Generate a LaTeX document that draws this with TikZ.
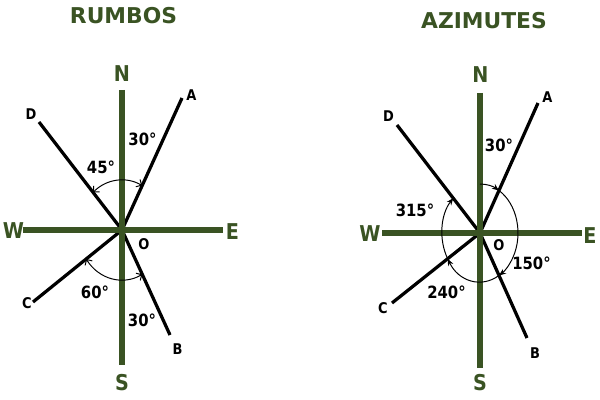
\documentclass[tikz,border=0pt]{standalone}
\usepackage{fontspec}
\setmainfont{DejaVu Sans}
\newfontfamily\narrowfont[FakeStretch=0.88]{DejaVu Sans}
\usetikzlibrary{arrows.meta}
\definecolor{compassgreen}{RGB}{58,83,35}

\begin{document}
\begin{tikzpicture}[x=0.025cm,y=0.025cm,
    axis/.style={line width=4.5pt,compassgreen},
    ray/.style={line width=2.3pt,black},
    cardinal/.style={inner sep=0pt,text=compassgreen,font=\narrowfont\bfseries\fontsize{15.5}{15.5}\selectfont},
    point/.style={inner sep=0pt,font=\narrowfont\bfseries\fontsize{10.5}{10.5}\selectfont},
    angletext/.style={inner sep=0pt,font=\narrowfont\bfseries\fontsize{12}{12}\selectfont},
    heading/.style={inner sep=0pt,text=compassgreen,font=\bfseries\fontsize{15.5}{15.5}\selectfont},
    rumboarc/.style={line width=0.7pt,{Straight Barb[length=3pt,width=6pt]}-{Straight Barb[length=3pt,width=6pt]}},
    azarc/.style={line width=0.7pt,-{Stealth[length=5pt,width=4pt]}}]
\useasboundingbox (0,0) rectangle (600,400);

\node[heading] (rumbos) at (123.5,384) {RUMBOS};
\node[heading] (azimutes) at (484,379) {AZIMUTES};

% rumbos
\begin{scope}[shift={(122,170)}]
    \coordinate (O1) at (0,0);
    \coordinate (N1) at (0,140);
    \coordinate (S1) at (0,-135);
    \coordinate (W1) at (-99,0);
    \coordinate (E1) at (101,0);
    \coordinate (A1) at (60,132);
    \coordinate (B1) at (48,-105);
    \coordinate (C1) at (-89,-72);
    \coordinate (D1) at (-83,108);
    \draw[ray] (O1) -- (A1);
    \draw[ray] (O1) -- (B1);
    \draw[ray] (O1) -- (C1);
    \draw[ray] (O1) -- (D1);
    \draw[axis] (N1) -- (S1);
    \draw[axis] (W1) -- (E1);
    \draw[rumboarc] (62.7:44 and 50) arc[start angle=62.7,end angle=131.1,x radius=44,y radius=50];
    \draw[rumboarc] (-144.6:44 and 50) arc[start angle=-144.6,end angle=-62.5,x radius=44,y radius=50];
    \node[cardinal] (labN1) at (0,156) {N};
    \node[cardinal] (labS1) at (0,-153) {S};
    \node[cardinal] (labW1) at (-108.5,-0.5) {W};
    \node[cardinal] (labE1) at (110.5,-1.5) {E};
    \node[point] (labA1) at (69.5,135) {A};
    \node[point] (labB1) at (55.5,-119.5) {B};
    \node[point] (labC1) at (-95,-73.5) {C};
    \node[point] (labD1) at (-91,116) {D};
    \node[point] (labO1) at (22,-14.5) {O};
    \node[angletext] (ang30a) at (20.5,90.5) {30°};
    \node[angletext] (ang45) at (-21,62.5) {45°};
    \node[angletext] (ang60) at (-27,-62.5) {60°};
    \node[angletext] (ang30b) at (20,-90.5) {30°};
\end{scope}

% azimutes
\begin{scope}[shift={(480,167)}]
    \coordinate (O2) at (0,0);
    \coordinate (N2) at (0,140);
    \coordinate (S2) at (0,-135);
    \coordinate (W2) at (-98,0);
    \coordinate (E2) at (102,0);
    \coordinate (A2) at (58,130);
    \coordinate (B2) at (47,-105);
    \coordinate (C2) at (-88,-70);
    \coordinate (D2) at (-83,108);
    \draw[ray] (O2) -- (A2);
    \draw[ray] (O2) -- (B2);
    \draw[ray] (O2) -- (C2);
    \draw[ray] (O2) -- (D2);
    \draw[axis] (N2) -- (S2);
    \draw[axis] (W2) -- (E2);
    \foreach \a/\b in {90/60.1,60.1/-60,-60/-148.3,-148.3/-225.3}
        \draw[azarc] (\a:38 and 49) arc[start angle=\a,end angle=\b,x radius=38,y radius=49];
    \node[cardinal] (labN2) at (0.5,158) {N};
    \node[cardinal] (labS2) at (0,-150) {S};
    \node[cardinal] (labW2) at (-110,-0.5) {W};
    \node[cardinal] (labE2) at (110,-3) {E};
    \node[point] (labA2) at (67.5,135.5) {A};
    \node[point] (labB2) at (55,-120.5) {B};
    \node[point] (labC2) at (-97,-75.5) {C};
    \node[point] (labD2) at (-91.5,116.5) {D};
    \node[point] (labO2) at (19,-12.5) {O};
    \node[angletext] (az30) at (19,88) {30°};
    \node[angletext] (az315) at (-65,22.5) {315°};
    \node[angletext] (az150) at (51.5,-30.5) {150°};
    \node[angletext] (az240) at (-33.5,-59.5) {240°};
\end{scope}
\end{tikzpicture}
\end{document}
